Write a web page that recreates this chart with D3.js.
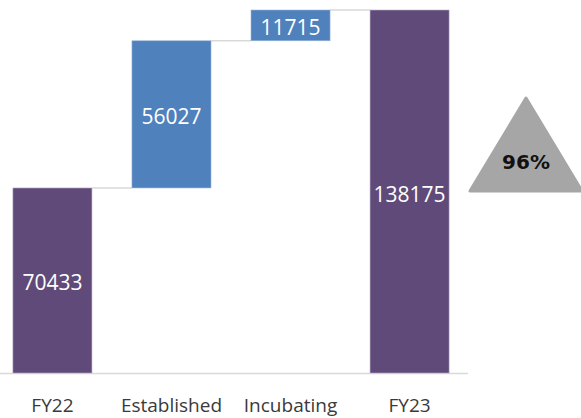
<!DOCTYPE html>
<html>
<head>
<meta charset="utf-8">
<script src="https://cdn.jsdelivr.net/npm/d3@7"></script>
<style>
  html, body { margin: 0; padding: 0; background: #fff; }
  svg { display: block; }
</style>
</head>
<body>
<svg id="chart" width="581" height="418"></svg>
<script>
// Waterfall: FY22 revenue, segment growth, FY23 revenue
const categories = ["FY22", "Established", "Incubating", "FY23"];
const values = [70433, 56027, 11715, 138175];
const kinds = ["total", "delta", "delta", "total"];
const growthLabel = ["96%"];

const width = 581, height = 418;
const baseY = 373, topY = 10;

const svg = d3.select("#chart");

const x = d3.scaleBand()
  .domain(categories)
  .range([1, 461])
  .paddingInner(0.336)
  .paddingOuter(0.1);

const y = d3.scaleLinear()
  .domain([0, 138175])
  .range([baseY, topY]);

// running start/end for each step
let running = 0;
const steps = categories.map((c, i) => {
  let y0, y1;
  if (kinds[i] === "total") { y0 = 0; y1 = values[i]; running = values[i]; }
  else { y0 = running; y1 = running + values[i]; running = y1; }
  return { cat: c, value: values[i], kind: kinds[i], y0, y1 };
});

const colors = { total: "#5f4a7a", delta: "#4f81bd" };

// connectors between consecutive bars
const conn = svg.append("g");
for (let i = 0; i < steps.length - 1; i++) {
  const lvl = steps[i].y1;
  conn.append("line")
    .attr("x1", x(steps[i].cat) + x.bandwidth())
    .attr("x2", x(steps[i + 1].cat))
    .attr("y1", y(lvl)).attr("y2", y(lvl))
    .attr("stroke", "#d9d9d9").attr("stroke-width", 1.5);
}

// baseline
svg.append("line")
  .attr("x1", 0).attr("x2", 468)
  .attr("y1", baseY + 0.5).attr("y2", baseY + 0.5)
  .attr("stroke", "#d9d9d9").attr("stroke-width", 1.5);

// bars
svg.append("g").selectAll("rect")
  .data(steps).join("rect")
  .attr("x", d => x(d.cat))
  .attr("width", x.bandwidth())
  .attr("y", d => y(d.y1))
  .attr("height", d => y(d.y0) - y(d.y1))
  .attr("fill", d => colors[d.kind])
  .attr("stroke", d => d.kind === "total" ? "#b9b1c6" : "#9ab5db")
  .attr("stroke-width", 0.6);

// value labels
svg.append("g").selectAll("text")
  .data(steps).join("text")
  .attr("x", d => x(d.cat) + x.bandwidth() / 2)
  .attr("y", d => (y(d.y0) + y(d.y1)) / 2 + 2)
  .attr("text-anchor", "middle")
  .attr("dominant-baseline", "central")
  .attr("fill", "#ffffff")
  .style("font-family", "'Open Sans', 'Noto Sans', sans-serif")
  .style("font-size", "21px")
  .text(d => d.value);

// category axis labels
svg.append("g").selectAll("text")
  .data(categories).join("text")
  .attr("x", d => x(d) + x.bandwidth() / 2)
  .attr("y", 412)
  .attr("text-anchor", "middle")
  .attr("fill", "#3a3a3a")
  .style("font-family", "'Open Sans', 'Noto Sans', sans-serif")
  .style("font-size", "19px")
  .text(d => d);

// growth badge
const tri = d3.path();
tri.moveTo(526, 98);
tri.lineTo(582, 191);
tri.lineTo(470, 191);
tri.closePath();
svg.append("path")
  .attr("d", tri.toString())
  .attr("fill", "#a6a6a6")
  .attr("stroke", "#a6a6a6")
  .attr("stroke-width", 3)
  .attr("stroke-linejoin", "round");

svg.append("text")
  .attr("x", 526)
  .attr("y", 162)
  .attr("text-anchor", "middle")
  .attr("dominant-baseline", "central")
  .attr("fill", "#111")
  .style("font-family", "'DejaVu Sans', sans-serif")
  .style("font-weight", "bold")
  .style("font-size", "20px")
  .text(growthLabel[0]);
</script>
</body>
</html>
